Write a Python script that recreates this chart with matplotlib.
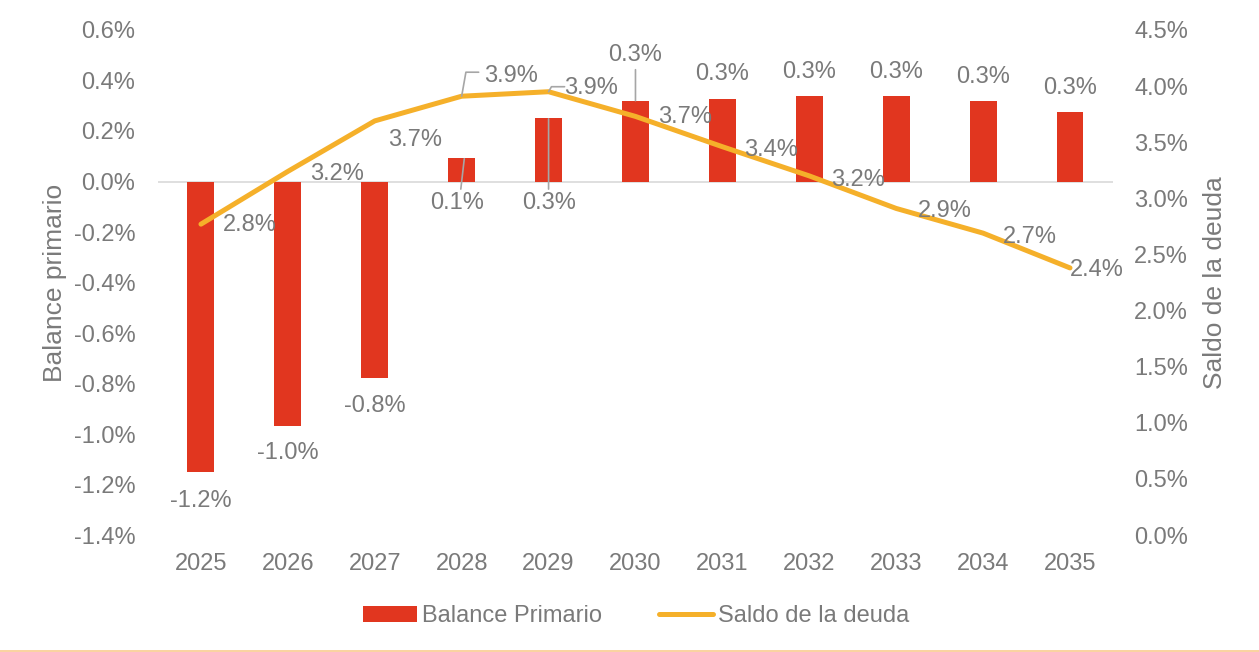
import numpy as np
import matplotlib.pyplot as plt
from matplotlib.lines import Line2D
from matplotlib.ticker import FuncFormatter

plt.rcParams['font.family'] = ['Liberation Sans', 'DejaVu Sans']

years = ['2025', '2026', '2027', '2028', '2029', '2030', '2031', '2032', '2033', '2034', '2035']
balance = [-1.15, -0.97, -0.78, 0.095, 0.253, 0.32, 0.325, 0.337, 0.34, 0.32, 0.277]
deuda = [2.77, 3.24, 3.69, 3.91, 3.95, 3.73, 3.46, 3.20, 2.91, 2.69, 2.38]
balance_txt = ['-1.2%', '-1.0%', '-0.8%', '0.1%', '0.3%', '0.3%', '0.3%', '0.3%', '0.3%', '0.3%', '0.3%']
deuda_txt = ['2.8%', '3.2%', '3.7%', '3.9%', '3.9%', '3.7%', '3.4%', '3.2%', '2.9%', '2.7%', '2.4%']

RED = '#E1361F'
GOLD = '#F5B02A'
GRAY = '#7A7A7A'
LEAD = '#A6A6A6'
FS = 17

fig = plt.figure(figsize=(12.59, 6.52), dpi=100)
ax = fig.add_axes([0.1251, 0.1794, 0.7593, 0.7746])
ax2 = ax.twinx()

x = np.arange(len(years))
ax.bar(x, balance, width=0.31, color=RED, label='Balance Primario', zorder=2)
ax2.plot(x, deuda, color=GOLD, lw=3.6, solid_capstyle='round', label='Saldo de la deuda')

ax.set_xlim(-0.5, len(years) - 0.5)
ax.set_ylim(-1.4, 0.6)
ax.set_yticks(np.arange(-1.4, 0.61, 0.2))
ax2.set_ylim(0, 4.5)
ax2.set_yticks(np.arange(0, 4.51, 0.5))
ax.yaxis.set_major_formatter(FuncFormatter(lambda v, p: f'{v:.1f}%'.replace('-0.0', '0.0')))
ax2.yaxis.set_major_formatter(FuncFormatter(lambda v, p: f'{v:.1f}%'))
ax.set_xticks(x)
ax.set_xticklabels(years)

for a in (ax, ax2):
    for s in a.spines.values():
        s.set_visible(False)
    a.tick_params(length=0, labelsize=FS, labelcolor=GRAY)
ax.tick_params(axis='y', pad=16)
ax2.tick_params(axis='y', pad=15)
ax.tick_params(axis='x', pad=13)
ax.axhline(0, color='#D9D9D9', lw=1.2, zorder=1)

ax.set_ylabel('Balance primario', fontsize=19, color=GRAY, labelpad=5)
ax2.set_ylabel('Saldo de la deuda', fontsize=19, color=GRAY, labelpad=11)

# bar labels: offsets in pixels from the bar end
bar_off = [(0, -29), (0, -27), (0, -28), (0, 0), (0, 0), (0, 46), (0, 25), (0, 24), (0, 24), (0, 24), (0, 24)]
for i, (v, t) in enumerate(zip(balance, balance_txt)):
    if i in (3, 4):
        # label sits below the zero line with a leader up to the bar top
        lx = i - 0.05 if i == 3 else i
        ax.text(lx, -0.085, t, ha='center', va='center', fontsize=FS, color=GRAY)
        ax.annotate('', xy=(i + 0.03 if i == 3 else i, v - 0.005), xytext=(i - 0.01 if i == 3 else i, -0.03),
                    arrowprops=dict(arrowstyle='-', color=LEAD, lw=1.2, shrinkA=0, shrinkB=0))
        continue
    dx, dy = bar_off[i]
    ax.annotate(t, xy=(i, v), xytext=(dx, dy), textcoords='offset pixels',
                ha='center', va='center', fontsize=FS, color=GRAY)
    if i == 5:
        ax.annotate('', xy=(i, v), xytext=(0, 31), textcoords='offset pixels',
                    arrowprops=dict(arrowstyle='-', color=LEAD, lw=1.2, shrinkA=0, shrinkB=0))

# line labels: offsets in pixels from the point
line_off = [(49, -1), (49, -3), (40, -19), (49, 20), (42, 4), (50, -1), (49, -3), (49, -4), (49, -3), (47, -4), (27, -2)]
for i, (v, t) in enumerate(zip(deuda, deuda_txt)):
    dx, dy = line_off[i]
    ax2.annotate(t, xy=(i, v), xytext=(dx, dy), textcoords='offset pixels',
                 ha='center', va='center', fontsize=FS, color=GRAY, zorder=5)
ax2.annotate('', xy=(3, 3.91), xytext=(17, 24), textcoords='offset pixels',
             arrowprops=dict(arrowstyle='-', color=LEAD, lw=1.2, shrinkA=0, shrinkB=0,
                             connectionstyle='angle,angleA=0,angleB=80,rad=0'))
ax2.annotate('', xy=(4, 3.95), xytext=(16, 5), textcoords='offset pixels',
             arrowprops=dict(arrowstyle='-', color=LEAD, lw=1.2, shrinkA=0, shrinkB=0,
                             connectionstyle='angle,angleA=0,angleB=60,rad=0'))

h1, l1 = ax.get_legend_handles_labels()
h2, l2 = ax2.get_legend_handles_labels()
leg = fig.legend(h1 + h2, l1 + l2, loc='center', bbox_to_anchor=(0.505, 1 - 616 / 652),
                 ncol=2, frameon=False, fontsize=FS, handlelength=2.3, handleheight=0.65,
                 handletextpad=0.2, columnspacing=2.4)
for t in leg.get_texts():
    t.set_color(GRAY)

fig.add_artist(Line2D([0, 1], [0.0015, 0.0015], transform=fig.transFigure, color='#F9CB8F', lw=1.2))

fig.savefig('out.png', dpi=100)
